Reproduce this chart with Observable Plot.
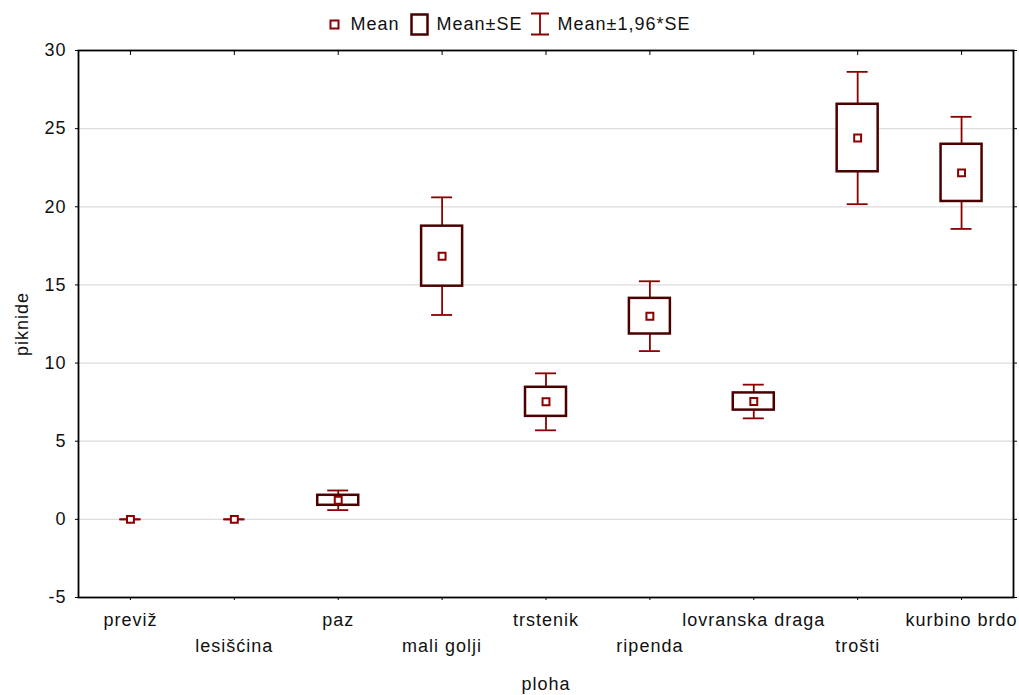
<!DOCTYPE html>
<html><head><meta charset="utf-8">
<script src="https://cdn.jsdelivr.net/npm/d3@7"></script>
<script src="https://cdn.jsdelivr.net/npm/@observablehq/plot@0.6"></script>
<style>
body{margin:0;background:#fff;font-family:"Liberation Sans",Arial,sans-serif;}
#legend{height:40px;box-sizing:border-box;padding-top:8px;display:flex;justify-content:center;align-items:center;font-size:18px;letter-spacing:1px;color:#111;}
#legend .item{display:flex;align-items:center;}
#legend svg{display:block;}
</style>
</head><body>
<div id="legend">
  <div class="item"><svg width="11" height="11" style="margin-right:11px"><rect x="1.5" y="1.5" width="8" height="8" fill="white" stroke="#8b0000" stroke-width="2"/></svg><span>Mean</span></div>
  <div class="item" style="margin-left:10px"><svg width="19" height="23" style="margin-right:8px"><rect x="1.5" y="1.5" width="16" height="20" fill="white" stroke="#4a0000" stroke-width="2.5"/></svg><span>Mean±SE</span></div>
  <div class="item" style="margin-left:9px"><svg width="18" height="24" style="margin-right:8px"><path d="M0,1.5H18M9,1.5V22.5M0,22.5H18" fill="none" stroke="#8b0000" stroke-width="1.8"/></svg><span>Mean±1,96*SE</span></div>
</div>
<div id="chart"></div>
<script>
const categories = ["previž","lesišćina","paz","mali golji","trstenik","ripenda","lovranska draga","trošti","kurbino brdo"];
const means = [0, 0, 1.22, 16.84, 7.52, 13.0, 7.54, 24.4, 22.17];
const se = [0, 0, 0.32, 1.92, 0.93, 1.14, 0.55, 2.16, 1.83];
const yTicks = [-5, 0, 5, 10, 15, 20, 25, 30];

const rows = categories.map((c, i) => ({plot: c, mean: means[i], se: se[i]}));
const evenCats = categories.filter((c, i) => i % 2 === 0);
const oddCats = categories.filter((c, i) => i % 2 === 1);

const whisker = "#8b0000";
const boxColor = "#4a0000";

const chart = Plot.plot({
  width: 1019,
  height: 655,
  marginTop: 10,
  marginBottom: 98,
  marginLeft: 78,
  marginRight: 6,
  style: {fontFamily: '"Liberation Sans", Arial, sans-serif', fontSize: "18px", letterSpacing: "1px", color: "#111", background: "white", overflow: "visible"},
  x: {type: "point", domain: categories, padding: 0.5, round: false},
  y: {domain: [-5, 30]},
  marks: [
    Plot.gridY(yTicks, {stroke: "#dcdcdc", strokeOpacity: 1, strokeWidth: 1.2}),
    Plot.ruleX(rows, {x: "plot", y1: d => d.mean - 1.96 * d.se, y2: d => d.mean + 1.96 * d.se, stroke: whisker, strokeWidth: 1.8}),
    Plot.ruleY(rows, {x1: "plot", x2: "plot", y: d => d.mean + 1.96 * d.se, stroke: whisker, strokeWidth: 1.8, insetLeft: -10.5, insetRight: -10.5}),
    Plot.ruleY(rows, {x1: "plot", x2: "plot", y: d => d.mean - 1.96 * d.se, stroke: whisker, strokeWidth: 1.8, insetLeft: -10.5, insetRight: -10.5}),
    Plot.rect(rows.filter(d => d.se > 0), {x1: "plot", x2: "plot", y1: d => d.mean - d.se, y2: d => d.mean + d.se, fill: "white", stroke: boxColor, strokeWidth: 2.5, insetLeft: -20.5, insetRight: -20.5}),
    Plot.dot(rows, {x: "plot", y: "mean", symbol: "square", r: 3.9, fill: "white", stroke: whisker, strokeWidth: 2}),
    Plot.frame({stroke: "black", strokeWidth: 1.8}),
    Plot.axisY(yTicks, {anchor: "left", tickSize: 3, tickPadding: 9, tickFormat: d => String(d), label: null, stroke: "black"}),
    Plot.axisY(yTicks, {anchor: "right", tickSize: 3, tickFormat: () => "", label: null, stroke: "black"}),
    Plot.axisX(categories, {anchor: "bottom", tickSize: 3, tickFormat: () => "", label: null, stroke: "black"}),
    Plot.axisX(categories, {anchor: "top", tickSize: -4, tickFormat: () => "", label: null, stroke: "black"}),
    Plot.axisX(evenCats, {anchor: "bottom", tickSize: 0, tickPadding: 16, label: null}),
    Plot.axisX(oddCats, {anchor: "bottom", tickSize: 0, tickPadding: 42, label: null}),
    Plot.text(["piknide"], {frameAnchor: "left", rotate: -90, dx: -56, lineAnchor: "middle", textAnchor: "middle", fill: "#111"}),
    Plot.text(["ploha"], {frameAnchor: "bottom", dy: 87, lineAnchor: "middle", textAnchor: "middle", fill: "#111"})
  ]
});
document.getElementById("chart").appendChild(chart);
</script>
</body></html>
